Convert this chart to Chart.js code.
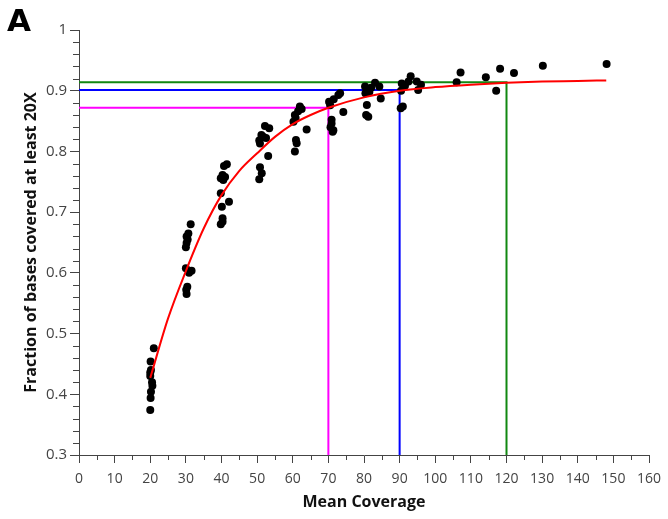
<!DOCTYPE html>
<html>
<head>
<meta charset="utf-8">
<script src="https://cdn.jsdelivr.net/npm/chart.js@4.4.1/dist/chart.umd.min.js"></script>
<style>
  html, body { margin: 0; padding: 0; background: #fff; }
  #wrap { width: 668px; height: 519px; position: relative; }
</style>
</head>
<body>
<div id="wrap"><canvas id="c" width="668" height="519"></canvas></div>
<script>
// ---- data ----
const coverageX = [
  20.1, 20.0, 20.0, 20.2, 20.6, 20.2, 20.1, 20.0, 21.0, 20.5,
  31.35, 30.7, 30.2, 30.2, 30.0, 30.0, 31.6, 30.4, 30.2, 30.5, 30.1, 30.9,
  40.1, 42.1, 40.3, 39.8, 41.5, 40.7, 40.3, 39.8, 40.5, 39.8, 40.3, 41.0,
  50.8, 53.1, 50.8, 51.3, 50.6, 52.2, 51.7, 53.4, 50.6, 51.2, 52.5,
  61.1, 60.6, 60.6, 62.0, 60.2, 63.9, 60.9, 61.5, 60.8, 62.5,
  72.8, 70.5, 74.2, 70.9, 71.2, 73.3, 71.4, 70.9, 70.2, 71.5, 70.6,
  80.3, 83.1, 84.3, 84.7, 80.8, 80.6, 81.2, 80.4, 82.0, 81.5,
  90.6, 93.1, 94.8, 95.2, 90.4, 90.9, 90.3, 91.5, 92.5, 96.0,
  107.1, 106.0, 114.2, 118.2, 117.1, 122.1, 130.2, 148.1
];
const fractionY = [
  0.454, 0.436, 0.430, 0.440, 0.414, 0.404, 0.394, 0.374, 0.476, 0.420,
  0.680, 0.665, 0.660, 0.649, 0.642, 0.6075, 0.6035, 0.577, 0.565, 0.655, 0.572, 0.600,
  0.709, 0.717, 0.684, 0.680, 0.779, 0.776, 0.761, 0.756, 0.753, 0.731, 0.690, 0.758,
  0.813, 0.7925, 0.774, 0.764, 0.754, 0.842, 0.824, 0.838, 0.818, 0.827, 0.822,
  0.8134, 0.800, 0.860, 0.874, 0.849, 0.836, 0.819, 0.866, 0.855, 0.870,
  0.893, 0.876, 0.865, 0.846, 0.8325, 0.896, 0.835, 0.852, 0.882, 0.886, 0.840,
  0.907, 0.913, 0.907, 0.887, 0.8765, 0.860, 0.857, 0.896, 0.905, 0.898,
  0.912, 0.924, 0.915, 0.901, 0.900, 0.874, 0.871, 0.908, 0.915, 0.910,
  0.930, 0.914, 0.922, 0.936, 0.900, 0.929, 0.941, 0.944
];
// fitted curve, read at these coverages
const fitX = [20, 25, 30, 35, 40, 45, 50, 55, 60, 65, 70, 80, 90, 100, 110, 120, 130, 140, 148];
const fitY = [0.427, 0.525, 0.603, 0.673, 0.728, 0.768, 0.797, 0.824, 0.845, 0.860, 0.872, 0.889, 0.900, 0.906, 0.910, 0.913, 0.915, 0.916, 0.917];
// threshold guide lines
const thresholdX = [70, 90, 120];
const thresholdY = [0.872, 0.901, 0.914];
const thresholdColors = ['#ff00ff', '#0000ff', '#118811'];
// axes
const xMin = 0, xMax = 160, xStep = 10, xMinorStep = 5;
const yMin = 0.3, yMax = 1, yStep = 0.1, yMinorStep = 0.02;
const xTitle = 'Mean Coverage';
const yTitle = 'Fraction of bases covered at least 20X';
const panelLabel = 'A';

// ---- build datasets ----
const scatterPts = coverageX.map((x, i) => ({ x: x, y: fractionY[i] }));
const fitPts = fitX.map((x, i) => ({ x: x, y: fitY[i] }));
const datasets = [];
datasets.push({
  label: 'fit', data: fitPts, showLine: true, borderColor: '#ff0000', borderWidth: 2,
  pointRadius: 0, tension: 0.4, cubicInterpolationMode: 'monotone', order: 0
});
datasets.push({
  label: 'samples', data: scatterPts, showLine: false, backgroundColor: '#000', borderColor: '#000',
  pointRadius: 4, borderWidth: 0, order: 1
});
thresholdX.forEach((tx, i) => {
  datasets.push({
    label: 'threshold ' + tx,
    data: [{ x: xMin, y: thresholdY[i] }, { x: tx, y: thresholdY[i] }, { x: tx, y: yMin }],
    showLine: true, borderColor: thresholdColors[i], borderWidth: 2, pointRadius: 0, tension: 0,
    order: 2
  });
});

const axisColor = '#444';

const minorTicks = {
  id: 'minorTicks',
  afterDraw(chart) {
    const ctx = chart.ctx;
    const xs = chart.scales.x, ys = chart.scales.y;
    ctx.save();
    ctx.strokeStyle = axisColor;
    ctx.lineWidth = 1;
    ctx.beginPath();
    for (let v = xMin + xMinorStep; v < xMax; v += xStep) {
      const px = Math.round(xs.getPixelForValue(v)) + 0.5;
      ctx.moveTo(px, ys.bottom);
      ctx.lineTo(px, ys.bottom + 5);
    }
    const nY = Math.round((yMax - yMin) / yMinorStep);
    for (let k = 1; k < nY; k++) {
      if (k % 5 === 0) continue;
      const v = yMin + k * yMinorStep;
      const py = Math.round(ys.getPixelForValue(v)) + 0.5;
      ctx.moveTo(xs.left, py);
      ctx.lineTo(xs.left - 6, py);
    }
    ctx.stroke();
    ctx.fillStyle = '#000';
    ctx.font = 'bold 31px "DejaVu Sans"';
    ctx.textBaseline = 'alphabetic';
    ctx.textAlign = 'left';
    ctx.fillText(panelLabel, 7, 31);
    ctx.restore();
  }
};

new Chart(document.getElementById('c'), {
  type: 'scatter',
  data: { datasets: datasets },
  options: {
    responsive: false,
    animation: false,
    layout: { padding: { top: 30, right: 19, left: 0, bottom: 0 } },
    plugins: { legend: { display: false }, tooltip: { enabled: false }, title: { display: false } },
    scales: {
      x: {
        type: 'linear', min: xMin, max: xMax,
        ticks: { stepSize: xStep, color: axisColor, font: { family: '"Open Sans"', size: 14 }, padding: 8, maxRotation: 0, autoSkip: false },
        grid: { drawOnChartArea: false, drawTicks: true, tickLength: 8, color: axisColor },
        border: { display: true, color: axisColor, width: 1 },
        title: { display: true, text: xTitle, color: '#111', font: { family: '"Open Sans"', size: 16, weight: 'bold' }, padding: { top: 0, bottom: 7 } },
        afterFit(scale) { scale.height = 64; scale.paddingRight = 0; scale.paddingLeft = 0; }
      },
      y: {
        type: 'linear', min: yMin, max: yMax,
        ticks: { stepSize: yStep, color: axisColor, font: { family: '"Open Sans"', size: 15 }, padding: 3,
          callback: (v) => String(+(+v).toFixed(2)) },
        grid: { drawOnChartArea: false, drawTicks: true, tickLength: 9, color: axisColor },
        border: { display: true, color: axisColor, width: 1 },
        title: { display: true, text: yTitle, color: '#111', font: { family: '"Open Sans"', size: 16, weight: 'bold' }, padding: { top: 22, bottom: 0 } },
        afterFit(scale) { scale.width = 79; scale.paddingTop = 0; scale.paddingBottom = 0; }
      }
    }
  },
  plugins: [minorTicks]
});
</script>
</body>
</html>
